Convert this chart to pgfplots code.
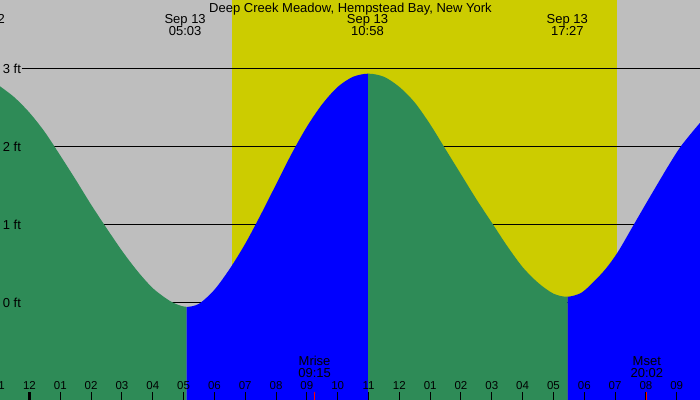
\documentclass[border=0pt]{standalone}
\usepackage{pgfplots}
\pgfplotsset{compat=1.18}
\usepgfplotslibrary{fillbetween}
\usepackage{fontspec}
\setmainfont{Liberation Sans}
\definecolor{bggray}{RGB}{190,190,190}
\definecolor{daylight}{RGB}{204,204,0}
\definecolor{ebb}{RGB}{46,139,87}
\definecolor{flood}{RGB}{0,0,255}
\newcommand\lblfont{\fontsize{13}{15}\selectfont}
\newcommand\tickfont{\fontsize{11.5}{12}\selectfont}
\begin{document}
\begin{tikzpicture}
\begin{axis}[
  set layers, axis on top,
  scale only axis, width=700pt, height=400pt,
  xmin=-0.9572, xmax=21.7554, ymin=-1.2436, ymax=3.8846,
  axis x line*=bottom, axis y line=none,
  x axis line style={draw=none},
  axis background/.style={fill=bggray},
  xtick={-1,0,...,21},
  xticklabels={11,12,01,02,03,04,05,06,07,08,09,10,11,12,01,02,03,04,05,06,07,08,09},
  tick align=inside, major tick length=8.3pt,
  every tick/.style={black, line width=1pt},
  xticklabel style={anchor=base, yshift=10.7pt, font=\tickfont},
  ytick=\empty,
]
% daylight band and level lines (behind the water)
\addplot[fill=daylight, draw=none, on layer=pre main] coordinates {(6.57,-1.3) (6.57,4) (19.06,4) (19.06,-1.3)};
\addplot[black, line width=1pt, on layer=pre main] coordinates {(-0.253,3) (21.8,3)};
\addplot[black, line width=1pt, on layer=pre main] coordinates {(-0.253,2) (21.8,2)};
\addplot[black, line width=1pt, on layer=pre main] coordinates {(-0.253,1) (21.8,1)};
\addplot[black, line width=1pt, on layer=pre main] coordinates {(-0.253,0) (21.8,0)};

% tide height, ft (hours from midnight Sep 13)
\addplot[name path=tide, draw=none, smooth] coordinates {
(-1.0,2.79) (-0.5,2.64) (0.0,2.44) (0.5,2.19) (1.0,1.89) (1.5,1.58) (2.0,1.26)
(2.5,0.96) (3.0,0.67) (3.5,0.41) (4.0,0.19) (4.5,0.04) (4.8,-0.02) (5.1,-0.05)
(5.5,-0.01) (6.0,0.17) (6.5,0.44) (7.0,0.76) (7.5,1.13) (8.0,1.52) (8.5,1.91)
(9.0,2.26) (9.5,2.55) (10.0,2.77) (10.5,2.90) (11.0,2.94) (11.5,2.90) (12.0,2.77)
(12.5,2.57) (13.0,2.29) (13.5,1.97) (14.0,1.65) (14.5,1.33) (15.0,1.03) (15.5,0.73)
(16.0,0.46) (16.5,0.26) (17.0,0.12) (17.45,0.08) (17.9,0.13) (18.3,0.27) (18.7,0.44)
(19.1,0.66) (19.6,1.00) (20.1,1.34) (20.7,1.74) (21.1,1.99) (21.5,2.19) (21.8,2.33)};
\addplot[name path=base, draw=none] coordinates {(-1.2,-1.3) (22,-1.3)};
\addplot[fill=ebb, draw=none] fill between[of=tide and base, soft clip={domain=-1.2:5.1}];
\addplot[fill=flood, draw=none] fill between[of=tide and base, soft clip={domain=5.1:10.99}];
\addplot[fill=ebb, draw=none] fill between[of=tide and base, soft clip={domain=10.99:17.46}];
\addplot[fill=flood, draw=none] fill between[of=tide and base, soft clip={domain=17.46:22}];

% midnight and moon ticks
\addplot[black, line width=3pt] coordinates {(0,-1.2436) (0,-1.1372)};
\addplot[red, line width=1pt, on layer=axis foreground] coordinates {(9.25,-1.2436) (9.25,-1.1372)};
\addplot[red, line width=1.2pt, on layer=axis foreground] coordinates {(20.02,-1.2436) (20.02,-1.1372)};

% hour label cut at the left edge
\node[anchor=base, font=\tickfont, yshift=10.7pt] at (axis cs:-1,-1.2436) {11};

% level labels
\node[anchor=west, inner sep=0pt, font=\lblfont] at (axis cs:-0.8696,3) {3 ft};
\node[anchor=west, inner sep=0pt, font=\lblfont] at (axis cs:-0.8696,2) {2 ft};
\node[anchor=west, inner sep=0pt, font=\lblfont] at (axis cs:-0.8696,1) {1 ft};
\node[anchor=west, inner sep=0pt, font=\lblfont] at (axis cs:-0.8696,0) {0 ft};

% title and tide times
\node[anchor=base, font=\lblfont] at (axis cs:10.415,3.727) {Deep Creek Meadow, Hempstead Bay, New York};
\node[anchor=base, font=\lblfont] at (axis cs:-1.47,3.577) {Sep 12};
\node[anchor=base, font=\lblfont] at (axis cs:-1.47,3.427) {22:32};
\node[anchor=base, font=\lblfont] at (axis cs:5.05,3.577) {Sep 13};
\node[anchor=base, font=\lblfont] at (axis cs:5.05,3.427) {05:03};
\node[anchor=base, font=\lblfont] at (axis cs:10.967,3.577) {Sep 13};
\node[anchor=base, font=\lblfont] at (axis cs:10.967,3.427) {10:58};
\node[anchor=base, font=\lblfont] at (axis cs:17.45,3.577) {Sep 13};
\node[anchor=base, font=\lblfont] at (axis cs:17.45,3.427) {17:27};

% moonrise / moonset
\node[anchor=base, font=\lblfont] at (axis cs:9.25,-0.8077) {Mrise};
\node[anchor=base, font=\lblfont] at (axis cs:9.25,-0.9577) {09:15};
\node[anchor=base, font=\lblfont] at (axis cs:20.03,-0.8077) {Mset};
\node[anchor=base, font=\lblfont] at (axis cs:20.03,-0.9577) {20:02};

\coordinate (SW) at (rel axis cs:0,0);
\coordinate (NE) at (rel axis cs:1,1);
\end{axis}
\pgfresetboundingbox
\useasboundingbox (SW) rectangle (NE);
\end{tikzpicture}
\end{document}
